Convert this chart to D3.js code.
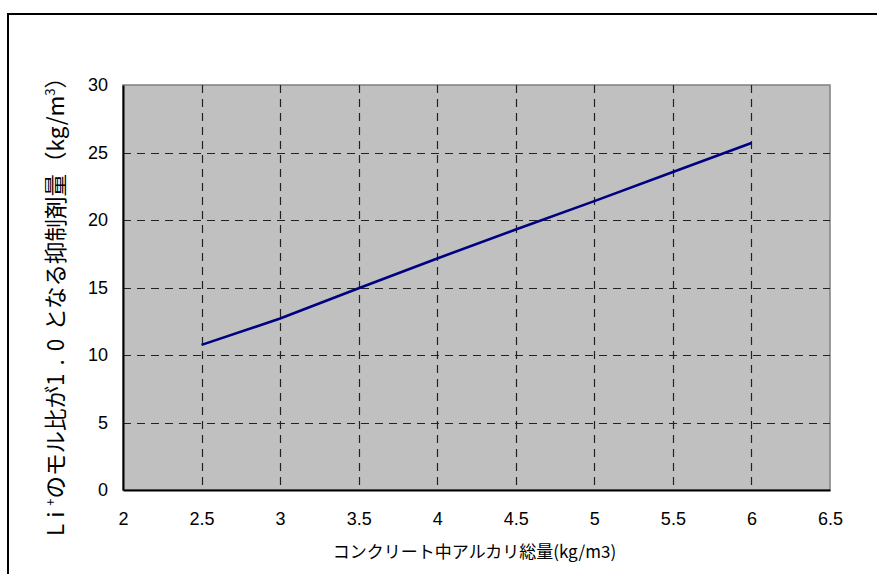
<!DOCTYPE html>
<html>
<head>
<meta charset="utf-8">
<script src="https://cdn.jsdelivr.net/npm/d3@7"></script>
<style>
  html, body { margin: 0; padding: 0; background: #fff; }
  svg { display: block; }
</style>
</head>
<body>
<div id="chart"></div>
<script>
// data
const xValues = [2.5, 3, 3.5, 4, 4.5, 5, 5.5, 6];
const yValues = [10.75, 12.7, 14.95, 17.15, 19.3, 21.4, 23.55, 25.7];
const xTicks = [2, 2.5, 3, 3.5, 4, 4.5, 5, 5.5, 6, 6.5];
const yTicks = [0, 5, 10, 15, 20, 25, 30];
const xTitle = "コンクリート中アルカリ総量(kg/m3)";

(function() {
  const width = 877;
  const height = 574;
  const margin = { top: 85, right: 47, bottom: 84, left: 123 };
  const innerW = width - margin.left - margin.right;
  const innerH = height - margin.top - margin.bottom;

  const svg = d3.select("#chart")
    .append("svg")
    .attr("width", width)
    .attr("height", height);

  // outer chart frame (right/bottom run off the page)
  svg.append("rect")
    .attr("x", 8).attr("y", 14)
    .attr("width", 900).attr("height", 600)
    .attr("fill", "none")
    .attr("stroke", "#000")
    .attr("stroke-width", 2);

  const x = d3.scaleLinear().domain([2, 6.5]).range([margin.left, margin.left + innerW]);
  const y = d3.scaleLinear().domain([0, 30]).range([margin.top + innerH, margin.top]);

  // plot area
  svg.append("rect")
    .attr("x", x(2)).attr("y", y(30))
    .attr("width", x(6.5) - x(2)).attr("height", y(0) - y(30))
    .attr("fill", "#c0c0c0")
    .attr("stroke", "#808080")
    .attr("stroke-width", 1.5);

  // grid
  const grid = svg.append("g");
  grid.selectAll(".gx")
    .data(xTicks.filter(d => d > 2 && d < 6.5))
    .join("line")
    .attr("x1", d => Math.round(x(d)) + 0.5).attr("x2", d => Math.round(x(d)) + 0.5)
    .attr("y1", y(30)).attr("y2", y(0))
    .attr("stroke", "#222")
    .attr("stroke-width", 1.2)
    .attr("stroke-dasharray", "8,6");
  grid.selectAll(".gy")
    .data(yTicks.filter(d => d > 0 && d < 30))
    .join("line")
    .attr("x1", x(2)).attr("x2", x(6.5))
    .attr("y1", d => Math.round(y(d)) + 0.5).attr("y2", d => Math.round(y(d)) + 0.5)
    .attr("stroke", "#222")
    .attr("stroke-width", 1.2)
    .attr("stroke-dasharray", "8,6");

  // axes
  const xAxis = svg.append("g")
    .attr("transform", `translate(0, ${y(0)})`)
    .call(d3.axisBottom(x).tickValues(xTicks).tickSize(0).tickPadding(22).tickFormat(d => d));
  const yAxis = svg.append("g")
    .attr("transform", `translate(${x(2)}, 0)`)
    .call(d3.axisLeft(y).tickValues(yTicks).tickSize(0).tickPadding(15));

  [xAxis, yAxis].forEach(g => {
    g.attr("font-size", null).attr("font-family", null);
    g.select(".domain").attr("stroke", "#000").attr("stroke-width", 2);
    g.selectAll("text")
      .attr("fill", "#000")
      .style("font-family", "'Liberation Sans', Arial, sans-serif")
      .style("font-size", "18px");
  });

  // data line
  const pts = xValues.map((v, i) => [v, yValues[i]]);
  svg.append("path")
    .datum(pts)
    .attr("fill", "none")
    .attr("stroke", "#000080")
    .attr("stroke-width", 2.6)
    .attr("d", d3.line().x(d => x(d[0])).y(d => y(d[1])));

  // titles
  svg.append("text")
    .attr("x", (x(2) + x(6.5)) / 2 - 2)
    .attr("y", 558)
    .attr("text-anchor", "middle")
    .style("font-family", "'Noto Sans CJK JP', sans-serif")
    .style("font-size", "17px")
    .text(xTitle);

  const yt = svg.append("text")
    .attr("transform", "translate(64, 301) rotate(-90)")
    .attr("text-anchor", "middle")
    .style("font-family", "'Noto Sans CJK JP', sans-serif")
    .style("font-size", "22.5px");
  yt.append("tspan").style("letter-spacing", "6px").text("Li");
  yt.append("tspan").attr("baseline-shift", "super").style("font-size", "13px").text("+");
  yt.append("tspan").text("のモル比が");
  yt.append("tspan").style("letter-spacing", "8px").text("1.0");
  yt.append("tspan").text("となる抑制剤量（kg/m");
  yt.append("tspan").attr("baseline-shift", "super").style("font-size", "13px").text("3");
  yt.append("tspan").text("）");
})();
</script>
</body>
</html>
